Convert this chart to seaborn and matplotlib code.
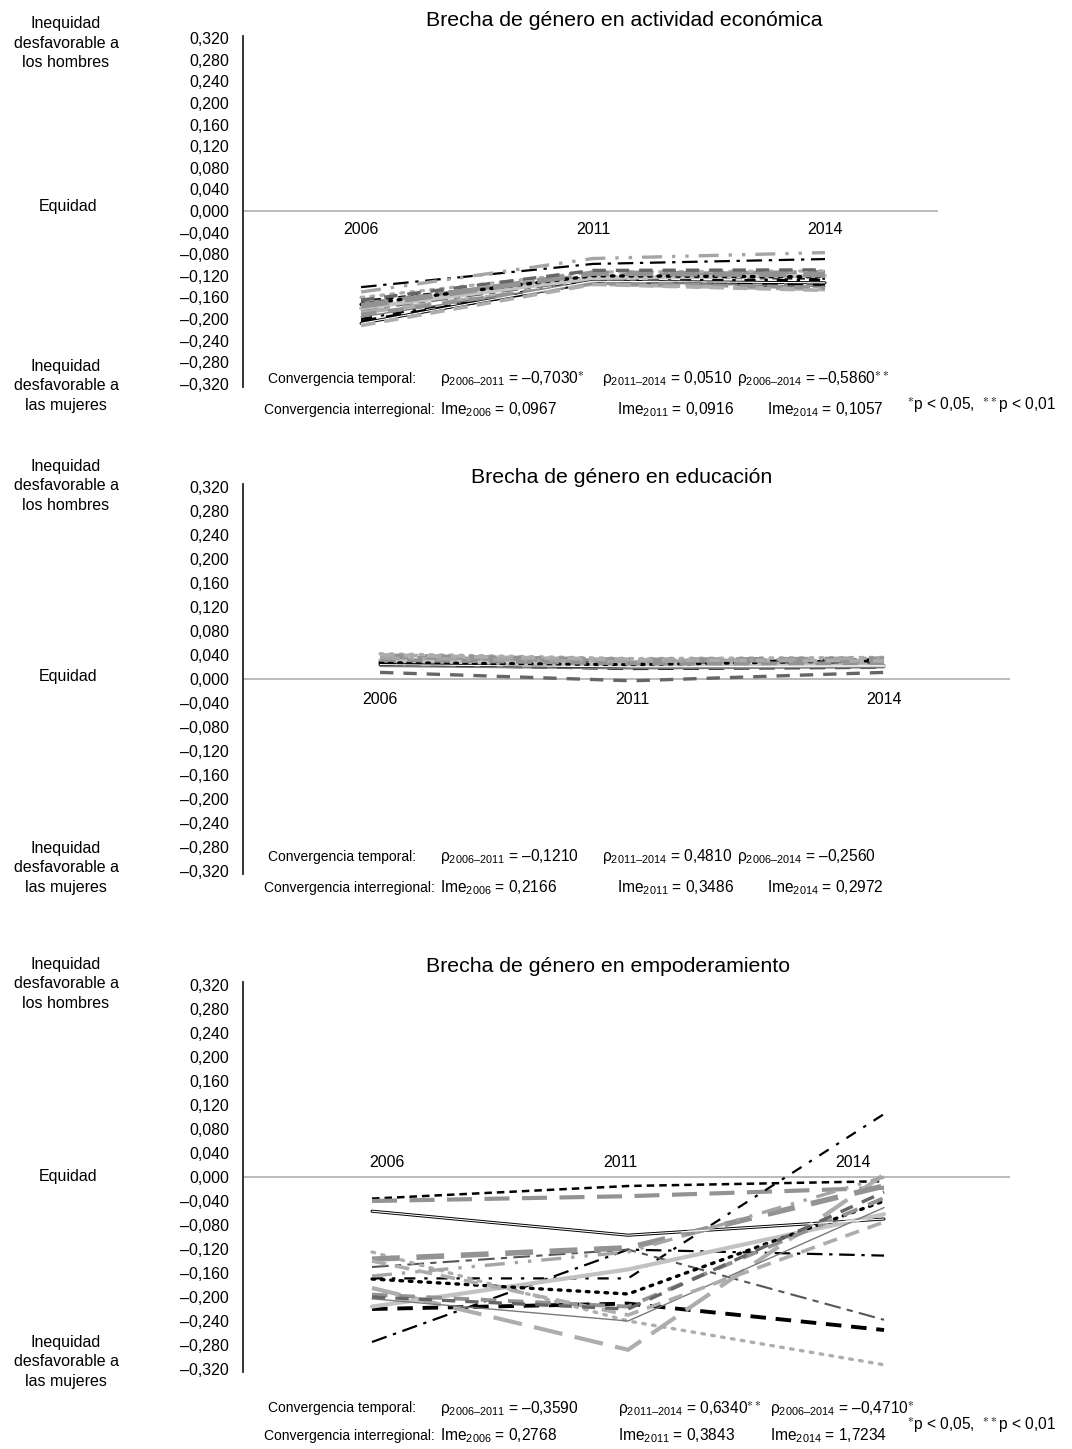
import numpy as np
import pandas as pd
import matplotlib
matplotlib.use("Agg")
import matplotlib.pyplot as plt
import seaborn as sns

# ---------------- data ----------------
years = ["2006", "2011", "2014"]
regions = list("ABCDEFGHIJKLMNOPQ")

titles = ["Brecha de género en actividad económica",
          "Brecha de género en educación",
          "Brecha de género en empoderamiento"]

econ_2006 = [-0.167, -0.172, -0.208, -0.141, -0.200, -0.184, -0.205, -0.160, -0.188,
             -0.180, -0.173, -0.196, -0.176, -0.192, -0.212, -0.150, -0.165]
econ_2011 = [-0.122, -0.118, -0.130, -0.098, -0.128, -0.127, -0.132, -0.113, -0.135,
             -0.124, -0.120, -0.131, -0.115, -0.133, -0.136, -0.088, -0.110]
econ_2014 = [-0.125, -0.113, -0.133, -0.089, -0.128, -0.136, -0.138, -0.111, -0.145,
             -0.120, -0.122, -0.140, -0.118, -0.142, -0.147, -0.077, -0.109]

educ_2006 = [0.030, 0.036, 0.024, 0.028, 0.026, 0.022, 0.025, 0.042, 0.034,
             0.031, 0.027, 0.021, 0.038, 0.032, 0.040, 0.035, 0.011]
educ_2011 = [0.026, 0.030, 0.020, 0.027, 0.025, 0.021, 0.018, 0.034, 0.028,
             0.023, 0.024, 0.017, 0.031, 0.026, 0.032, 0.029, -0.003]
educ_2014 = [0.030, 0.028, 0.022, 0.033, 0.029, 0.027, 0.020, 0.036, 0.024,
             0.021, 0.031, 0.019, 0.033, 0.026, 0.030, 0.035, 0.011]

empo_2006 = [-0.036, -0.040, -0.057, -0.275, -0.169, -0.150, -0.220, -0.125, -0.185,
             -0.216, -0.170, -0.203, -0.137, -0.196, -0.140, -0.165, -0.200]
empo_2011 = [-0.015, -0.032, -0.097, -0.121, -0.169, -0.121, -0.211, -0.240, -0.288,
             -0.154, -0.195, -0.240, -0.118, -0.216, -0.230, -0.125, -0.220]
empo_2014 = [-0.007, -0.018, -0.070, -0.131, 0.105, -0.238, -0.255, -0.313, 0.004,
             -0.062, -0.040, -0.051, -0.015, -0.035, -0.075, 0.000, -0.025]

rho_labels = ["2006–2011", "2011–2014", "2006–2014"]
rho_econ = ["–0,7030", "0,0510", "–0,5860"]
rho_econ_sig = ["*", "", "**"]
rho_educ = ["–0,1210", "0,4810", "–0,2560"]
rho_educ_sig = ["", "", ""]
rho_empo = ["–0,3590", "0,6340", "–0,4710"]
rho_empo_sig = ["", "**", "*"]
ime_econ = ["0,0967", "0,0916", "0,1057"]
ime_educ = ["0,2166", "0,3486", "0,2972"]
ime_empo = ["0,2768", "0,3843", "1,7234"]

yticks = np.round(np.arange(-0.32, 0.3201, 0.04), 3)

# ---------------- styles (per region) ----------------
BLK, DG, MG, G, LG, VLG = "#000000", "#555555", "#7a7a7a", "#939393", "#adadad", "#c2c2c2"
styles = {
    "A": dict(color=BLK, lw=1.8, ls=(0, (3, 2))),
    "B": dict(color=G, lw=3.0, ls=(0, (6, 3))),
    "C": dict(color=BLK, lw=2.2, ls="-", double=True),
    "D": dict(color=BLK, lw=1.6, ls=(0, (7, 3, 1.5, 3))),
    "E": dict(color=BLK, lw=1.6, ls=(0, (5, 4, 1.5, 4))),
    "F": dict(color=DG, lw=1.5, ls=(0, (8, 3, 3, 3))),
    "G": dict(color=BLK, lw=2.8, ls=(0, (4, 2.5))),
    "H": dict(color=LG, lw=2.4, ls=(0, (0.8, 2.2)), cap="round"),
    "I": dict(color=LG, lw=3.0, ls=(0, (7, 3))),
    "J": dict(color=VLG, lw=3.0, ls="-"),
    "K": dict(color=BLK, lw=2.4, ls=(0, (0.8, 2.0)), cap="round"),
    "L": dict(color=MG, lw=1.0, ls="-"),
    "M": dict(color=G, lw=4.0, ls=(0, (5, 3))),
    "N": dict(color=G, lw=2.8, ls=(0, (4, 3))),
    "O": dict(color=LG, lw=2.6, ls=(0, (4, 2.5))),
    "P": dict(color="#a5a5a5", lw=2.4, ls=(0, (6, 3, 1, 3, 1, 3))),
    "Q": dict(color="#666666", lw=2.4, ls=(0, (4, 3))),
}

# ---------------- figure ----------------
sns.set_theme(style="white")
plt.rcParams["font.family"] = ["Liberation Sans", "DejaVu Sans"]
plt.rcParams["mathtext.fontset"] = "custom"
plt.rcParams["mathtext.rm"] = "Liberation Sans"
plt.rcParams["mathtext.it"] = "Liberation Sans"
plt.rcParams["mathtext.default"] = "regular"
plt.rcParams["text.color"] = "black"
plt.rcParams["axes.labelcolor"] = "black"

W, H = 1072, 1449
fig = plt.figure(figsize=(W / 100, H / 100), dpi=100)
fig.patch.set_facecolor("white")


def px_axes(l, r, t, b):
    return fig.add_axes([l / W, 1 - b / H, (r - l) / W, (b - t) / H])


def ftext(x, y, s, **kw):
    fig.text(x / W, 1 - y / H, s, color="black", **kw)


def fmt_tick(v):
    if abs(v) < 1e-9:
        v = 0.0
    return ("%.3f" % v).replace(".", ",").replace("-", "–")


panels = [
    dict(box=(243, 938, 35.5, 386.5), xlim=(-0.509, 2.487),
         vals=(econ_2006, econ_2011, econ_2014), yearlab_y=-0.034, yoff=[0, 0, 0],
         title_xy=(624, 20), top_c=43, eq=207, bot_c=386,
         rows=(379, 410), rho_x=(440, 602, 737), ime_x=(440, 617, 767),
         rho=rho_econ, sig=rho_econ_sig, ime=ime_econ, foot=(907, 404)),
    dict(box=(243, 1010, 484, 874), xlim=(-0.544, 2.5),
         vals=(educ_2006, educ_2011, educ_2014), yearlab_y=-0.034, yoff=[0, 0, 0],
         title_xy=(622, 477), top_c=486, eq=676, bot_c=868,
         rows=(857, 888), rho_x=(440, 602, 737), ime_x=(440, 617, 767),
         rho=rho_educ, sig=rho_educ_sig, ime=ime_educ, foot=None),
    dict(box=(243, 1010, 982, 1372), xlim=(-0.504, 2.492),
         vals=(empo_2006, empo_2011, empo_2014), yearlab_y=0.024, yoff=[0.06, -0.03, -0.12],
         title_xy=(608, 967), top_c=984, eq=1176, bot_c=1362,
         rows=(1408, 1436), rho_x=(440, 618, 770), ime_x=(440, 618, 770),
         rho=rho_empo, sig=rho_empo_sig, ime=ime_empo, foot=(907, 1424)),
]

TICK_FS = 11.5
SIDE_FS = 11.5
CONV_FS = 10.0
VAL_FS = 11.2
TITLE_FS = 15.3

for p, title in zip(panels, titles):
    ax = px_axes(*p["box"])
    ax.set_facecolor("white")
    v06, v11, v14 = p["vals"]
    df = pd.DataFrame({
        "region": np.repeat(regions, 3),
        "pos": np.tile(np.arange(3), len(regions)),
        "year": np.tile(years, len(regions)),
        "value": np.ravel(np.column_stack([v06, v11, v14])),
    })
    ax.axhline(0, color="#a8a8a8", lw=1.1, zorder=1)
    for reg in regions:
        st = styles[reg]
        sub = df[df["region"] == reg]
        kw = dict(color=st["color"], lw=st["lw"], linestyle=st["ls"], zorder=3)
        if "cap" in st:
            kw["dash_capstyle"] = st["cap"]
        sns.lineplot(data=sub, x="pos", y="value", ax=ax, legend=False, **kw)
        if st.get("double"):
            sns.lineplot(data=sub, x="pos", y="value", ax=ax, legend=False,
                         color="white", lw=0.8, linestyle="-", zorder=4)
    ax.set_xlim(*p["xlim"])
    ax.set_ylim(-0.325, 0.325)
    ax.set_yticks(yticks)
    ax.set_yticklabels([fmt_tick(v) for v in yticks])
    ax.tick_params(axis="y", length=0, pad=10, labelsize=TICK_FS, colors="black")
    ax.set_xticks([])
    ax.set_xlabel("")
    ax.set_ylabel("")
    for s in ("top", "right", "bottom"):
        ax.spines[s].set_visible(False)
    ax.spines["left"].set_color("#222222")
    ax.spines["left"].set_linewidth(1.3)
    for i, yr in enumerate(years):
        ax.text(i + p["yoff"][i], p["yearlab_y"], yr, ha="center", va="center",
                fontsize=TICK_FS, color="black")
    # title
    ftext(*p["title_xy"], title, ha="center", va="center", fontsize=TITLE_FS)
    # side labels
    ftext(66, p["top_c"], "Inequidad\ndesfavorable a\nlos hombres", ha="center", va="center",
          fontsize=SIDE_FS, linespacing=1.4)
    ftext(68, p["eq"], "Equidad", ha="center", va="center", fontsize=SIDE_FS)
    ftext(66, p["bot_c"], "Inequidad\ndesfavorable a\nlas mujeres", ha="center", va="center",
          fontsize=SIDE_FS, linespacing=1.4)
    # convergence annotations
    r1, r2 = p["rows"]
    ftext(268, r1, "Convergencia temporal:", ha="left", va="center", fontsize=CONV_FS)
    ftext(264, r2, "Convergencia interregional:", ha="left", va="center", fontsize=CONV_FS)
    for j in range(3):
        sig = p["sig"][j]
        sup = ("$^{%s}$" % sig.replace("*", r"\ast")) if sig else ""
        ftext(p["rho_x"][j], r1, "ρ$_{%s}$ = %s%s" % (rho_labels[j], p["rho"][j], sup),
              ha="left", va="center", fontsize=VAL_FS)
        ftext(p["ime_x"][j], r2, "Ime$_{%s}$ = %s" % (years[j], p["ime"][j]),
              ha="left", va="center", fontsize=VAL_FS)
    if p["foot"] is not None:
        fx, fy = p["foot"]
        ftext(fx, fy, r"$^{\ast}$p < 0,05,  $^{\ast\ast}$p < 0,01", ha="left", va="center",
              fontsize=VAL_FS)

fig.savefig("out.png", dpi=100, facecolor="white")
